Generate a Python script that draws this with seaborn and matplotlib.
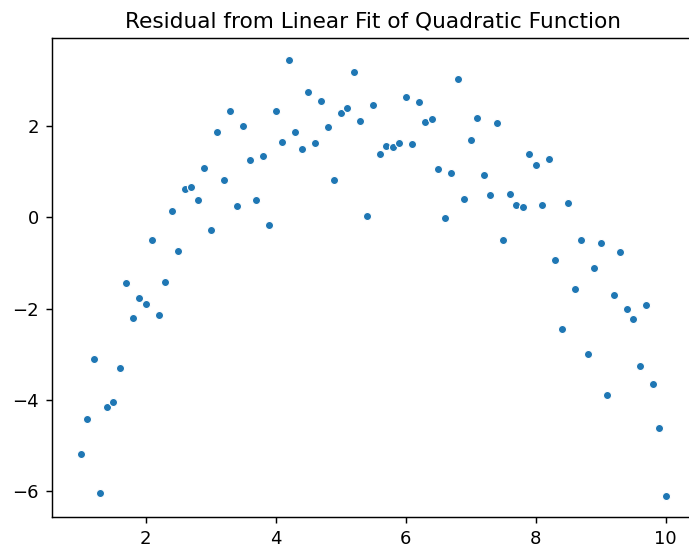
import numpy as np
import pandas as pd
import matplotlib
matplotlib.use("Agg")
import matplotlib.pyplot as plt
import seaborn as sns

x_values = [round(1 + 0.1 * i, 1) for i in range(91)]
residuals = [
    -5.18, -4.42, -3.11, -6.04, -4.16, -4.05, -3.31, -1.45, -2.20, -1.77,
    -1.91, -0.51, -2.14, -1.43, 0.14, -0.74, 0.62, 0.65, 0.37, 1.08,
    -0.29, 1.85, 0.80, 2.31, 0.25, 1.99, 1.25, 0.37, 1.34, -0.17,
    2.31, 1.65, 3.44, 1.85, 1.48, 2.74, 1.62, 2.53, 1.96, 0.80,
    2.28, 2.39, 3.17, 2.11, 0.03, 2.45, 1.39, 1.56, 1.53, 1.62,
    2.62, 1.59, 2.51, 2.08, 2.14, 1.05, -0.03, 0.97, 3.02, 0.40,
    1.68, 2.17, 0.91, 0.49, 2.05, -0.51, 0.51, 0.26, 0.23, 1.39,
    1.14, 0.26, 1.28, -0.94, -2.45, 0.31, -1.57, -0.51, -2.99, -1.11,
    -0.57, -3.90, -1.71, -0.77, -2.02, -2.22, -3.25, -1.93, -3.65, -4.62,
    -6.09,
]
title = "Residual from Linear Fit of Quadratic Function"

df = pd.DataFrame({"x": x_values, "residual": residuals})

dpi = 130
fig = plt.figure(figsize=(689 / dpi, 555 / dpi), dpi=dpi)
ax = fig.add_axes([51.5 / 689, 1 - 517.3 / 555, (695 - 51.5) / 689, (517.3 - 38) / 555])
sns.scatterplot(data=df, x="x", y="residual", ax=ax, s=20, color="#1f77b4",
                edgecolor="white", linewidth=0.6)
ax.set_title(title)
ax.set_xlabel("")
ax.set_ylabel("")
ax.set_xticks([2, 4, 6, 8, 10])
ax.set_yticks([-6, -4, -2, 0, 2])
fig.savefig("out.png", dpi=dpi)
